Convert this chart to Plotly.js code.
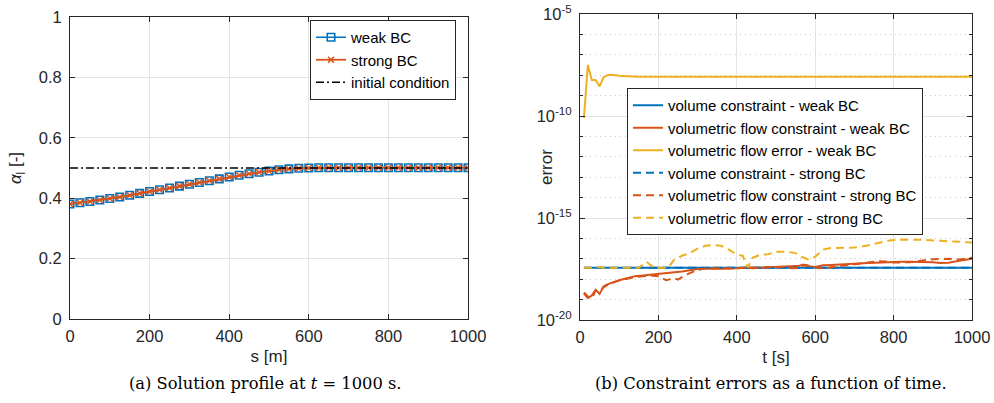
<!DOCTYPE html>
<html>
<head>
<meta charset="utf-8">
<script src="https://cdn.plot.ly/plotly-3.0.1.min.js"></script>
<style>
  html, body { margin: 0; padding: 0; background: #ffffff; }
  #chart { width: 994px; height: 403px; }
</style>
</head>
<body>
<div id="chart"></div>
<script>
// ---------- Left panel: solution profile ----------
const sPos = [0,25,50,75,100,125,150,175,200,225,250,275,300,325,350,375,400,425,450,475,500,
              525,550,575,600,625,650,675,700,725,750,775,800,825,850,875,900,925,950,975,1000];
const alphaWeak = [0.381,0.385,0.389,0.394,0.399,0.404,0.410,0.416,0.422,0.428,0.434,0.440,0.446,0.452,0.458,0.464,0.470,0.476,0.481,0.486,0.490,
                   0.494,0.497,0.499,0.500,0.501,0.501,0.501,0.501,0.501,0.501,0.501,0.501,0.501,0.501,0.501,0.501,0.501,0.501,0.501,0.501];
const alphaStrong = [0.381,0.385,0.389,0.394,0.399,0.404,0.410,0.416,0.422,0.428,0.434,0.440,0.446,0.452,0.458,0.464,0.470,0.476,0.481,0.486,0.490,
                   0.494,0.497,0.499,0.500,0.501,0.501,0.501,0.501,0.501,0.501,0.501,0.501,0.501,0.501,0.501,0.501,0.501,0.501,0.501,0.501];
const sInit = [0, 1000];
const alphaInit = [0.5, 0.5];

// ---------- Right panel: constraint errors (log10 of error) ----------
const tVol = [10, 1000];
const volWeakLog = [-17.44, -17.44];
const volStrongLog = [-17.44, -17.44];

const tFlowConWeak = [10,20,30,40,50,60,70,80,90,100,120,140,160,180,200,220,240,260,280,300,320,340,360,380,400,
                      420,440,460,480,500,520,540,560,570,580,600,620,640,660,680,700,720,740,760,780,800,820,840,860,880,900,920,940,960,980,1000];
const flowConWeakLog = [-18.70,-18.92,-18.80,-18.52,-18.72,-18.36,-18.25,-18.18,-18.10,-18.05,-17.95,-17.85,-17.82,-17.78,-17.76,-17.72,-17.66,-17.62,-17.56,-17.50,-17.48,-17.50,-17.49,-17.47,-17.45,
                        -17.46,-17.43,-17.44,-17.41,-17.39,-17.38,-17.36,-17.34,-17.28,-17.36,-17.40,-17.32,-17.30,-17.29,-17.27,-17.24,-17.22,-17.20,-17.19,-17.17,-17.16,-17.15,-17.15,-17.15,-17.16,-17.17,-17.20,-17.19,-17.12,-17.06,-17.00];

const tFlowConStrong = [10,20,30,40,50,60,70,80,90,100,120,140,160,180,200,210,220,240,250,260,280,300,320,340,360,380,400,
                        420,440,460,480,500,520,540,560,575,590,610,630,660,700,740,760,780,800,840,870,900,940,970,1000];
const flowConStrongLog = [-18.65,-18.85,-18.95,-18.55,-18.60,-18.40,-18.28,-18.20,-18.12,-18.06,-17.98,-17.90,-17.86,-17.82,-17.85,-17.95,-18.05,-17.95,-18.02,-17.90,-17.70,-17.55,-17.47,-17.48,-17.46,-17.48,-17.45,
                          -17.44,-17.46,-17.42,-17.40,-17.42,-17.40,-17.46,-17.44,-17.30,-17.38,-17.46,-17.44,-17.36,-17.28,-17.15,-17.12,-17.13,-17.18,-17.17,-17.10,-17.02,-17.00,-17.03,-16.95];

const tFlowErrWeak = [10,20,30,40,50,60,70,80,90,100,150,200,300,400,500,600,700,800,900,1000];
const flowErrWeakLog = [-10.10,-7.50,-8.23,-8.23,-8.55,-8.10,-8.00,-7.98,-8.00,-8.03,-8.07,-8.08,-8.08,-8.08,-8.08,-8.08,-8.08,-8.08,-8.08,-8.08];

const tFlowErrStrong = [10,40,50,60,150,160,170,180,190,225,240,260,280,300,320,340,360,380,400,415,428,440,460,480,500,530,550,565,585,600,620,640,680,700,730,760,790,820,850,880,920,960,1000];
const flowErrStrongLog = [-17.44,-17.44,-17.40,-17.44,-17.44,-17.30,-17.15,-17.30,-17.44,-17.44,-17.05,-16.85,-16.72,-16.50,-16.36,-16.32,-16.36,-16.55,-16.80,-16.85,-17.42,-16.95,-16.80,-16.78,-16.65,-16.66,-16.72,-16.90,-17.05,-16.90,-16.55,-16.47,-16.45,-16.45,-16.36,-16.22,-16.10,-16.06,-16.05,-16.07,-16.12,-16.16,-16.20];

// tick labels
const leftXTicks = [0,200,400,600,800,1000];
const leftYTicks = [0,0.2,0.4,0.6,0.8,1];
const rightYTickVals = [1e-20,1e-15,1e-10,1e-5];
const rightYTickText = ['10<sup>-20</sup>','10<sup>-15</sup>','10<sup>-10</sup>','10<sup>-5</sup>'];
const rightYMinorVals = [1e-19,1e-18,1e-17,1e-16,1e-14,1e-13,1e-12,1e-11,1e-9,1e-8,1e-7,1e-6];

const pow10 = a => a.map(v => Math.pow(10, v));

const BLUE = '#0072BD', ORANGE = '#D95319', YELLOW = '#EDB120';
const AX = '#262626';
const FONT = "'Liberation Sans', Arial, sans-serif";
const DASH = '8px,5px';
const LW = 2;

const traces = [
  {x: sPos, y: alphaWeak, xaxis: 'x', yaxis: 'y', name: 'weak BC', mode: 'lines+markers',
   line: {color: BLUE, width: 1.5}, marker: {symbol: 'square-open', size: 7.5, color: BLUE, line: {width: 1.6, color: BLUE}},
   legend: 'legend'},
  {x: sPos, y: alphaStrong, xaxis: 'x', yaxis: 'y', name: 'strong BC', mode: 'lines+markers',
   line: {color: ORANGE, width: 1.8}, marker: {symbol: 'x-thin-open', size: 6, color: ORANGE, line: {width: 1.5, color: ORANGE}},
   legend: 'legend'},
  {x: sInit, y: alphaInit, xaxis: 'x', yaxis: 'y', name: 'initial condition', mode: 'lines',
   line: {color: '#000000', width: 1.5, dash: '8px,3px,2px,3px'}, legend: 'legend'},

  {x: tVol, y: pow10(volWeakLog), xaxis: 'x2', yaxis: 'y2', name: 'volume constraint - weak BC', mode: 'lines',
   line: {color: BLUE, width: LW}, legend: 'legend2'},
  {x: tFlowConWeak, y: pow10(flowConWeakLog), xaxis: 'x2', yaxis: 'y2', name: 'volumetric flow constraint - weak BC', mode: 'lines',
   line: {color: ORANGE, width: LW}, legend: 'legend2'},
  {x: tFlowErrWeak, y: pow10(flowErrWeakLog), xaxis: 'x2', yaxis: 'y2', name: 'volumetric flow error - weak BC', mode: 'lines',
   line: {color: YELLOW, width: LW}, legend: 'legend2'},
  {x: tVol, y: pow10(volStrongLog), xaxis: 'x2', yaxis: 'y2', name: 'volume constraint - strong BC', mode: 'lines',
   line: {color: BLUE, width: LW, dash: DASH}, legend: 'legend2'},
  {x: tFlowConStrong, y: pow10(flowConStrongLog), xaxis: 'x2', yaxis: 'y2', name: 'volumetric flow constraint - strong BC', mode: 'lines',
   line: {color: ORANGE, width: LW, dash: DASH}, legend: 'legend2'},
  {x: tFlowErrStrong, y: pow10(flowErrStrongLog), xaxis: 'x2', yaxis: 'y2', name: 'volumetric flow error - strong BC', mode: 'lines',
   line: {color: YELLOW, width: LW, dash: DASH}, legend: 'legend2'}
];

const commonAxis = {
  showline: true, linecolor: AX, linewidth: 1, mirror: 'ticks',
  ticks: 'inside', ticklen: 5, tickcolor: AX, tickwidth: 1,
  showgrid: true, gridcolor: '#e3e3e3', gridwidth: 1, zeroline: false,
  tickfont: {family: FONT, size: 16.5, color: AX},
  automargin: false
};

const W = 994, H = 403;
const layout = {
  width: W, height: H,
  margin: {l: 0, r: 0, t: 0, b: 0},
  paper_bgcolor: '#ffffff', plot_bgcolor: '#ffffff',
  showlegend: true,
  font: {family: FONT, color: AX},
  xaxis: Object.assign({}, commonAxis, {
    domain: [70 / W, 468 / W], anchor: 'y', range: [0, 1000],
    tickmode: 'array', tickvals: leftXTicks, ticklabelstandoff: 2,
    title: {text: 's [m]', font: {family: FONT, size: 17, color: AX}, standoff: 6}
  }),
  yaxis: Object.assign({}, commonAxis, {
    domain: [1 - 319 / H, 1 - 17 / H], anchor: 'x', range: [0, 1],
    tickmode: 'array', tickvals: leftYTicks, ticklabelstandoff: 4,
    title: {text: '<i>α</i><sub>l</sub> [-]', font: {family: FONT, size: 17, color: AX}, standoff: 12}
  }),
  xaxis2: Object.assign({}, commonAxis, {
    domain: [580 / W, 972 / W], anchor: 'y2', range: [0, 1000],
    tickmode: 'array', tickvals: leftXTicks, ticklabelstandoff: 2,
    title: {text: 't [s]', font: {family: FONT, size: 17, color: AX}, standoff: 6}
  }),
  yaxis2: Object.assign({}, commonAxis, {
    domain: [1 - 320 / H, 1 - 14 / H], anchor: 'x2', type: 'log', range: [-20, -5],
    tickmode: 'array', tickvals: rightYTickVals, ticktext: rightYTickText, ticklabelstandoff: 4,
    minor: {tickmode: 'array', tickvals: rightYMinorVals, ticks: 'inside', ticklen: 3, tickcolor: AX,
            showgrid: true, gridcolor: '#c8c8c8', griddash: '1px,4px', gridwidth: 1}
  }),
  legend: {
    x: 310 / W, y: 1 - 20 / H, xanchor: 'left', yanchor: 'top',
    bgcolor: '#ffffff', bordercolor: '#262626', borderwidth: 1,
    font: {family: FONT, size: 15, color: '#000000'}, tracegroupgap: 0
  },
  legend2: {
    x: 627 / W, y: 1 - 88 / H, xanchor: 'left', yanchor: 'top',
    bgcolor: '#ffffff', bordercolor: '#262626', borderwidth: 1,
    font: {family: FONT, size: 15, color: '#000000'}, tracegroupgap: 0
  },
  annotations: [
    {text: 'error', xref: 'paper', yref: 'paper', x: 546 / W, y: 1 - 167 / H, textangle: -90,
     showarrow: false, xanchor: 'center', yanchor: 'middle', font: {family: FONT, size: 17, color: AX}},
    {text: '(a) Solution profile at <i>t</i> = 1000 s.', xref: 'paper', yref: 'paper', x: 265 / W, y: 1 - 383 / H,
     showarrow: false, xanchor: 'center', yanchor: 'middle', font: {family: 'DejaVu Serif, serif', size: 16.3, color: '#000000'}},
    {text: '(b) Constraint errors as a function of time.', xref: 'paper', yref: 'paper', x: 771 / W, y: 1 - 383 / H,
     showarrow: false, xanchor: 'center', yanchor: 'middle', font: {family: 'DejaVu Serif, serif', size: 16.3, color: '#000000'}}
  ]
};

Plotly.newPlot('chart', traces, layout, {staticPlot: true, displayModeBar: false});
</script>
</body>
</html>
